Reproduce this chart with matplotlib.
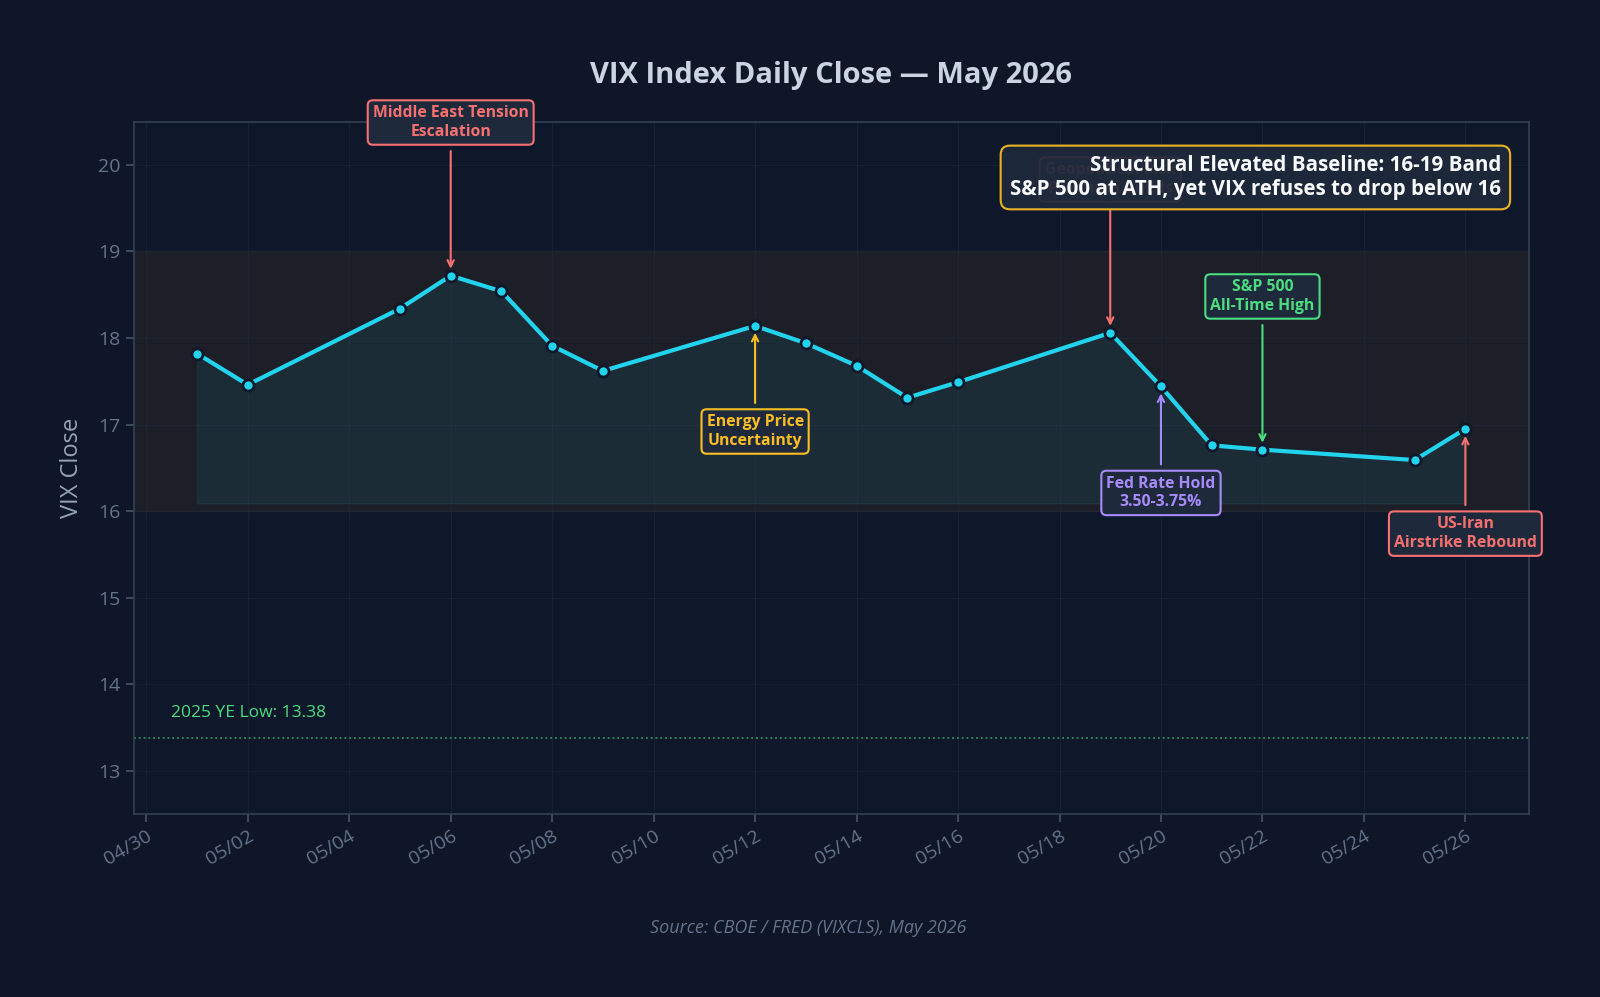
import numpy as np
import pandas as pd
import matplotlib
matplotlib.use('Agg')
import matplotlib.pyplot as plt
import matplotlib.dates as mdates

# VIX daily closes, May 2026
dates = ['2026-05-01', '2026-05-02', '2026-05-05', '2026-05-06', '2026-05-07',
         '2026-05-08', '2026-05-09', '2026-05-12', '2026-05-13', '2026-05-14',
         '2026-05-15', '2026-05-16', '2026-05-19', '2026-05-20', '2026-05-21',
         '2026-05-22', '2026-05-25', '2026-05-26']
vix = [17.82, 17.46, 18.34, 18.72, 18.54, 17.91, 17.62, 18.14, 17.94, 17.68,
       17.31, 17.49, 18.06, 17.44, 16.76, 16.71, 16.59, 16.95]

ye_low = 13.38
band = (16, 19)

# event annotations: date, label, colour, label y
event_dates = ['2026-05-06', '2026-05-12', '2026-05-19', '2026-05-20', '2026-05-22', '2026-05-26']
event_labels = ['Middle East Tension\nEscalation', 'Energy Price\nUncertainty',
                'Geopolitical Risk\nPremium Builds', 'Fed Rate Hold\n3.50-3.75%',
                'S&P 500\nAll-Time High', 'US-Iran\nAirstrike Rebound']
event_colors = ['#f87171', '#fbbf24', '#f87171', '#a78bfa', '#4ade80', '#f87171']
event_text_y = [20.49, 16.92, 19.83, 16.21, 18.48, 15.74]

BG = '#0e1628'
AX_BG = '#0f172a'

plt.rcParams['font.family'] = ['Open Sans', 'DejaVu Sans']

df = pd.DataFrame({'date': pd.to_datetime(dates), 'vix': vix})

fig, ax = plt.subplots(figsize=(16, 9.97), dpi=100)
fig.patch.set_facecolor(BG)
ax.set_facecolor(AX_BG)
fig.subplots_adjust(left=0.0835, right=0.9555, top=0.878, bottom=0.1835)

# elevated baseline band
ax.axhspan(band[0], band[1], color='#f59e0b', alpha=0.06, zorder=0)

# area under the line
ax.fill_between(df['date'], df['vix'], min(vix) - 0.5, color='#22d3ee', alpha=0.08, zorder=1)
ax.plot(df['date'], df['vix'], color='#22d3ee', lw=3, marker='o', markersize=8,
        markerfacecolor='#22d3ee', markeredgecolor='#0f172a', markeredgewidth=2, zorder=3)

# 2025 year-end low
ax.axhline(ye_low, color='#4ade80', ls=':', lw=1.3, alpha=0.6, zorder=1)
ax.text(0.027, ye_low + 0.2, f'2025 YE Low: {ye_low}', transform=ax.get_yaxis_transform(),
        color='#4ade80', fontsize=12.5, va='bottom', ha='left')

# event annotations
for d, lab, c, ty in zip(event_dates, event_labels, event_colors, event_text_y):
    x = pd.Timestamp(d)
    y = df.loc[df['date'] == x, 'vix'].iloc[0]
    ax.annotate(lab, xy=(x, y), xytext=(x, ty), ha='center', va='center',
                fontsize=11.3, fontweight='bold', color=c, zorder=4,
                bbox=dict(boxstyle='round,pad=0.32', fc='#1e293b', ec=c, lw=1.5),
                arrowprops=dict(arrowstyle='->', color=c, lw=1.5, shrinkA=4, shrinkB=5))

# structural baseline callout
ax.text(0.98, 0.952, 'Structural Elevated Baseline: 16-19 Band\nS&P 500 at ATH, yet VIX refuses to drop below 16',
        transform=ax.transAxes, ha='right', va='top', multialignment='right',
        fontsize=14.8, fontweight='bold', color='#f8fafc', zorder=6,
        bbox=dict(boxstyle='round,pad=0.45', fc='#1e293b', ec='#fbbf24', lw=1.5, alpha=0.93))

ax.set_ylim(12.5, 20.5)
ax.set_yticks(np.arange(13, 21, 1))
ax.set_xticks(pd.date_range('2026-04-30', '2026-05-26', freq='2D'))
ax.xaxis.set_major_formatter(mdates.DateFormatter('%m/%d'))
ax.set_xlim(pd.Timestamp('2026-04-29 18:00'), pd.Timestamp('2026-05-27 06:00'))
plt.setp(ax.get_xticklabels(), rotation=30, ha='right', rotation_mode='anchor')

ax.tick_params(colors='#475569', labelcolor='#64748b', labelsize=14, length=6, width=1.2)
for s in ax.spines.values():
    s.set_color('#334155')
    s.set_linewidth(1.2)
ax.grid(True, color='#1e293b', lw=0.8, alpha=0.6)
ax.set_axisbelow(True)

ax.set_ylabel('VIX Close', color='#94a3b8', fontsize=17, labelpad=10)
ax.set_title('VIX Index Daily Close — May 2026', color='#cbd5e1', fontsize=21,
             fontweight='bold', pad=28)

fig.text(0.505, 0.064, 'Source: CBOE / FRED (VIXCLS), May 2026', ha='center',
         color='#64748b', fontsize=13, style='italic')

fig.savefig('out.png', dpi=100, facecolor=BG)
